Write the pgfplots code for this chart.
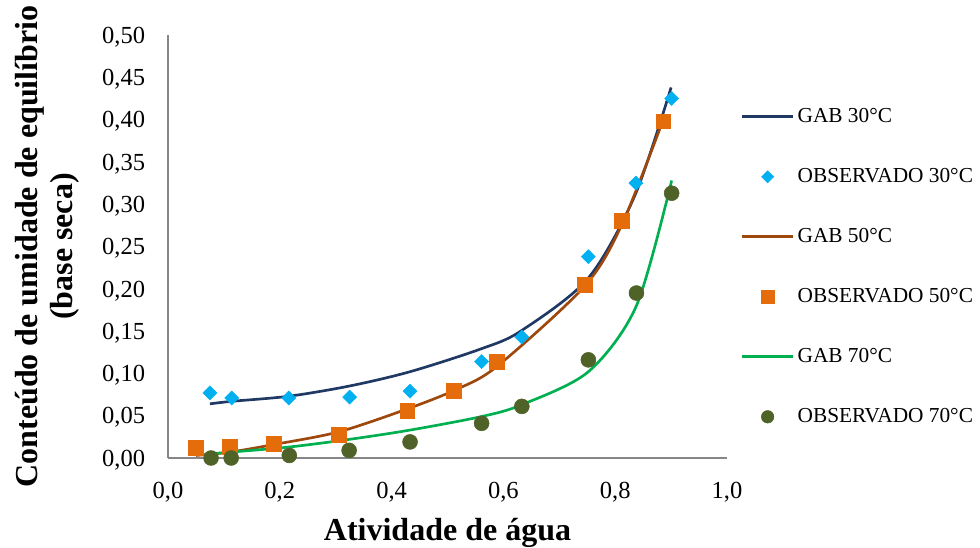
\documentclass[border=0pt]{standalone}
\usepackage{fontspec}
\setmainfont{Liberation Serif}
\usepackage{pgfplots}
\pgfplotsset{compat=1.18}
\definecolor{navyl}{HTML}{1F3864}
\definecolor{cyanm}{HTML}{00B0F0}
\definecolor{brownl}{HTML}{9E480E}
\definecolor{orangem}{HTML}{E46C0A}
\definecolor{greenl}{HTML}{00B050}
\definecolor{olivem}{HTML}{4F6228}
\definecolor{axgray}{HTML}{868686}
\pgfplotsset{
  linelegend/.style={legend image code/.code={\draw[##1] (0pt,0pt) -- (38pt,0pt);}},
  marklegend/.style={legend image code/.code={\path[draw=none] (0pt,0pt) (38pt,0pt);
      \draw[##1, mark size=#1] plot coordinates {(19pt,0pt)};}},
}
\begin{document}
\begin{tikzpicture}
\path[use as bounding box] (-126pt,-67.5pt) rectangle (609pt,343.5pt);
\begin{axis}[
  at={(0,0)}, anchor=south west,
  scale only axis, width=419.25pt, height=317.25pt,
  xmin=0, xmax=1, ymin=0, ymax=0.5,
  clip=false,
  axis x line=bottom, axis y line=left,
  axis line style={draw=axgray, line width=1.1pt, -},
  major tick length=0pt,
  xtick={0,0.2,0.4,0.6,0.8,1.0},
  ytick={0,0.05,0.10,0.15,0.20,0.25,0.30,0.35,0.40,0.45,0.50},
  /pgf/number format/assume math mode=true,
  /pgf/number format/use comma,
  /pgf/number format/fixed,
  /pgf/number format/fixed zerofill,
  xticklabel style={/pgf/number format/precision=1, anchor=base, inner sep=0pt, yshift=-30.5pt, font=\fontsize{18.4pt}{22pt}\selectfont},
  yticklabel style={/pgf/number format/precision=2, anchor=base east, inner sep=0pt, xshift=-17pt, yshift=-6.2pt, font=\fontsize{18.4pt}{22pt}\selectfont},
  xlabel={Atividade de água},
  xlabel style={at={(axis description cs:0.5,-0.196)}, anchor=base, inner sep=0pt, font=\fontsize{24pt}{28pt}\selectfont\bfseries},
  ylabel={Conteúdo de umidade de equilíbrio\\(base seca)},
  ylabel style={at={(axis description cs:-0.2156,0.5)}, anchor=center, rotate=0, align=center, inner sep=0pt, font=\fontsize{24pt}{26.25pt}\selectfont\bfseries},
  legend style={at={(axis description cs:1.025,0.452)}, anchor=west, draw=none, fill=none,
    inner sep=0pt, outer sep=0pt, row sep=28pt,
    nodes={inner ysep=0pt, inner xsep=2.5pt, text height=13pt, text depth=4pt},
    font=\fontsize{16pt}{19pt}\selectfont},
  legend cell align=left,
]
% GAB 30
\addplot[navyl, line width=2pt, smooth, no marks, linelegend] coordinates {
(0.075,0.064) (0.114,0.067) (0.216,0.073) (0.324,0.085) (0.433,0.102)
(0.560,0.129) (0.631,0.150) (0.751,0.212) (0.835,0.310) (0.900,0.438)};
\addlegendentry{GAB 30°C}
% Observado 30
\addplot[only marks, mark=square*, mark size=3.7pt, mark options={rotate=45, fill=cyanm, draw=cyanm}, marklegend=3.2pt] coordinates {
(0.075,0.077) (0.114,0.071) (0.216,0.071) (0.325,0.072) (0.433,0.079)
(0.561,0.114) (0.633,0.143) (0.752,0.238) (0.837,0.325) (0.901,0.425)};
\addlegendentry{OBSERVADO 30°C}
% GAB 50
\addplot[brownl, line width=2pt, smooth, no marks, linelegend] coordinates {
(0.050,0.003) (0.111,0.007) (0.190,0.016) (0.306,0.031) (0.428,0.058)
(0.512,0.080) (0.588,0.108) (0.745,0.203) (0.812,0.276) (0.886,0.400)};
\addlegendentry{GAB 50°C}
% Observado 50
\addplot[only marks, mark=square*, mark size=5.6pt, mark options={fill=orangem, draw=orangem}, marklegend=4.7pt] coordinates {
(0.050,0.012) (0.111,0.013) (0.190,0.017) (0.306,0.028) (0.428,0.056)
(0.511,0.079) (0.588,0.114) (0.745,0.205) (0.812,0.280) (0.886,0.398)};
\addlegendentry{OBSERVADO 50°C}
% GAB 70
\addplot[greenl, line width=2pt, smooth, no marks, linelegend] coordinates {
(0.077,0.005) (0.113,0.007) (0.217,0.013) (0.324,0.022) (0.433,0.033)
(0.561,0.049) (0.633,0.063) (0.752,0.102) (0.838,0.180) (0.901,0.328)};
\addlegendentry{GAB 70°C}
% Observado 70
\addplot[only marks, mark=*, mark size=5.6pt, mark options={fill=olivem, draw=olivem}, marklegend=4.7pt] coordinates {
(0.077,0.000) (0.113,0.000) (0.217,0.003) (0.324,0.009) (0.433,0.019)
(0.561,0.041) (0.633,0.061) (0.752,0.116) (0.838,0.195) (0.901,0.313)};
\addlegendentry{OBSERVADO 70°C}
\end{axis}
\end{tikzpicture}
\end{document}
